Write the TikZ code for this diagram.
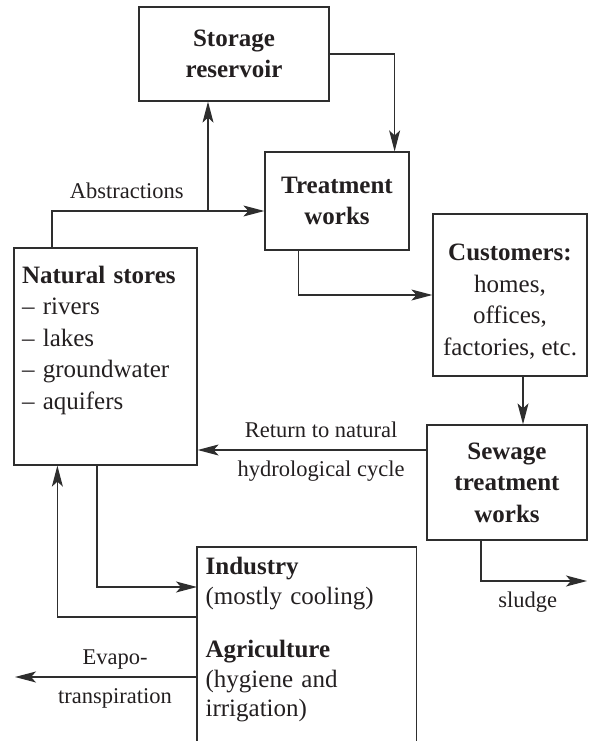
\documentclass[tikz,border=0pt]{standalone}
\usepackage{fontspec}
\setmainfont{Liberation Serif}
\usepackage{tikz}
\usetikzlibrary{positioning, arrows.meta}
\definecolor{InkBlack}{HTML}{231F20}
\definecolor{FlowGrey}{HTML}{2E2E2E}

\tikzset{
  box/.style={draw=FlowGrey, line width=1.25pt, text=InkBlack, align=center,
              font=\fontsize{25}{31.5}\selectfont, inner sep=0pt},
  flow/.style={draw=FlowGrey, line width=1.25pt,
               -{Stealth[length=21pt, width=11pt, inset=5pt]}},
  lbl/.style={text=InkBlack, font=\fontsize{22.5}{27}\selectfont, inner sep=0pt,
              text height=16pt, text depth=5pt},
}

\begin{document}
\begin{tikzpicture}[x=1pt, y=-1pt]
  \useasboundingbox (0,0) rectangle (591,741);
  % boxes
  \node[box, minimum width=190pt, minimum height=94pt] (store) at (234,54)
       {\textbf{Storage}\\\textbf{reservoir}};
  \node[box, minimum width=144pt, minimum height=98pt] (treat) at (337,201)
       {\textbf{Treatment}\\\textbf{works}};
  \node[box, minimum width=154pt, minimum height=162pt] (cust) at (510,295)
       {\rule{0pt}{30pt}\textbf{Customers:}\\homes,\\offices,\\factories, etc.};
  \node[box, minimum width=160pt, minimum height=115pt] (sew) at (507,482.5)
       {\textbf{Sewage}\\\textbf{treatment}\\\textbf{works}};
  \node[box, align=left, text width=167pt, inner xsep=8pt, minimum height=217pt] (nat) at (105.5,356.5)
       {\textbf{Natural stores}\\-- rivers\\-- lakes\\-- groundwater\\-- aquifers\\[6pt]\mbox{}};
  \node[box, draw=none, align=left, text width=202pt, inner xsep=8pt, inner ysep=10pt,
        font=\fontsize{25}{29.5}\selectfont, anchor=north west] (ind) at (197,547)
       {\textbf{Industry}\\(mostly cooling)\\[24pt]\textbf{Agriculture}\\(hygiene and\\irrigation)};
  \coordinate (cut) at (0,741);
  \draw[FlowGrey, line width=1.25pt] (ind.north west |- cut) -- (ind.north west)
       -- (ind.north east) -- (ind.north east |- cut);

  % flows
  \coordinate (abs) at (52,211);
  \coordinate (fork) at (208,211);
  \draw[flow] (nat.north -| abs) |- (treat.west |- abs)
       node[lbl, pos=0.676, above=7pt] {Abstractions};
  \draw[flow] (fork) -- (store.south -| fork);
  \draw[flow] (store.east) -| ([xshift=-15pt]treat.north east);
  \draw[flow] ([xshift=34pt]treat.south west) |- (cust.west);
  \draw[flow] ([xshift=13pt]cust.south) -- ([xshift=13pt]cust.south |- sew.north);
  \draw[flow] ([yshift=32.5pt]sew.west) -- ([yshift=32.5pt]sew.west -| nat.east)
       node[lbl, pos=0.46, above=7pt] {Return to natural}
       node[lbl, pos=0.46, below=10pt] {hydrological cycle};
  \coordinate (sludge) at (587,581);
  \draw[flow] ([xshift=-26pt]sew.south) |- (sludge)
       node[lbl, pos=0.72, below=10pt] {sludge};
  \draw[flow] ([xshift=-8.5pt]nat.south) |- ([yshift=-40pt]ind.north west);
  \draw[flow] ([yshift=-70pt]ind.north west) -| ([xshift=44pt]nat.south west);
  \coordinate (evap) at (15,677);
  \draw[flow] ([yshift=-130pt]ind.north west) -- (evap)
       node[lbl, pos=0.45, above=7pt] {Evapo-}
       node[lbl, pos=0.45, below=10pt] {transpiration};
\end{tikzpicture}
\end{document}
